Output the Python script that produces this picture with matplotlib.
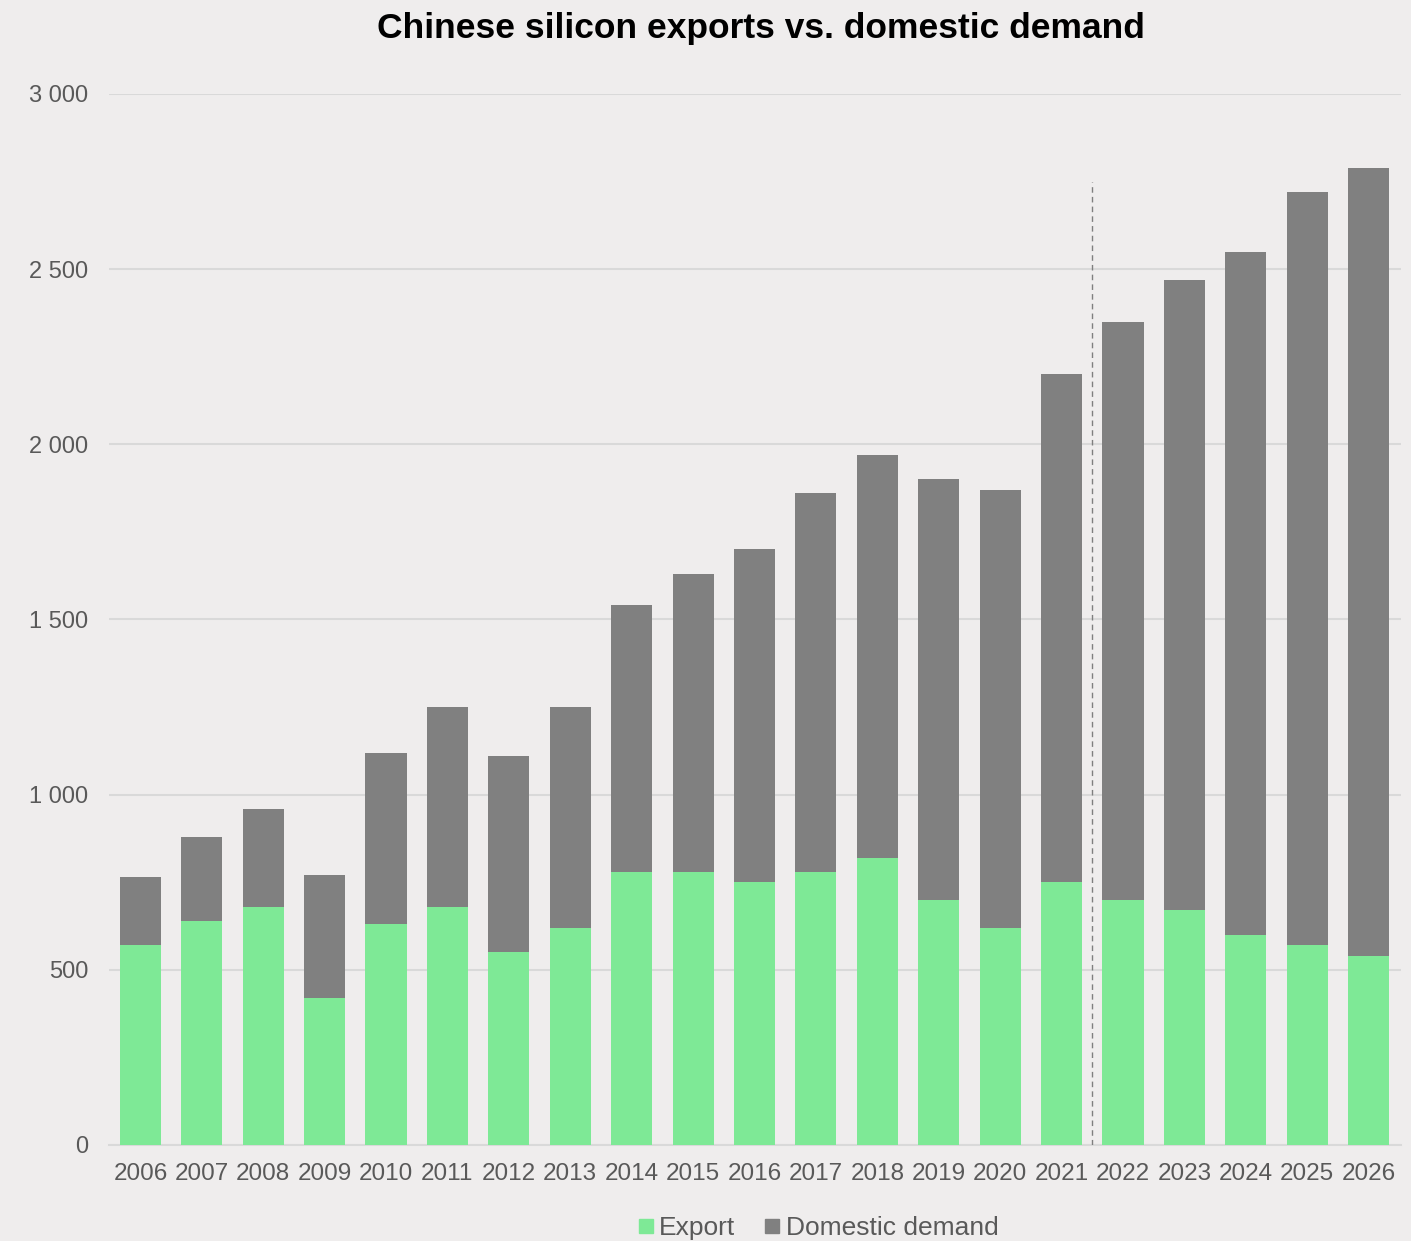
import matplotlib
matplotlib.use("Agg")
from matplotlib import pyplot as plt
from matplotlib.lines import Line2D
from matplotlib.ticker import FuncFormatter

years = [str(y) for y in range(2006, 2027)]
export = [570, 640, 680, 420, 630, 680, 550, 620, 780, 780, 750,
          780, 820, 700, 620, 750, 700, 670, 600, 570, 540]
total = [765, 880, 960, 770, 1120, 1250, 1110, 1250, 1540, 1630, 1700,
         1860, 1970, 1900, 1870, 2200, 2350, 2470, 2550, 2720, 2790]
domestic = [t - e for t, e in zip(total, export)]

bg = "#EFEDED"
green = "#7EE996"
grey = "#808080"
txt = "#595959"

plt.rcParams['font.family'] = ['Liberation Sans', 'DejaVu Sans']

fig = plt.figure(figsize=(14.11, 12.41), dpi=100, facecolor=bg)
ax = fig.add_axes([0.0773, 0.0774, 0.9157, 0.8469], facecolor=bg)

x = range(len(years))
ax.bar(x, export, width=0.67, color=green, zorder=3)
ax.bar(x, domestic, width=0.67, bottom=export, color=grey, zorder=3)

# forecast split
ax.plot([15.5, 15.5], [0, 2750], color="#7F7F7F", lw=1, ls=(0, (4, 3)), zorder=4)

ax.set_xlim(-0.51, 20.53)
ax.set_ylim(0, 3000)
ax.set_yticks(range(0, 3001, 500))
ax.yaxis.set_major_formatter(FuncFormatter(lambda v, p: f"{int(v):,}".replace(",", " ")))
ax.set_xticks(list(x))
ax.set_xticklabels(years)
ax.grid(axis="y", color="#D9D9D9", lw=1.5, zorder=0)
for s in ["left", "right", "top"]:
    ax.spines[s].set_visible(False)
ax.spines["bottom"].set_color("#D9D9D9")
ax.spines["bottom"].set_linewidth(1.5)
ax.tick_params(axis="both", length=0, labelsize=17, colors=txt)
ax.tick_params(axis="x", labelsize=17.5, pad=13)
ax.tick_params(axis="y", pad=15)

fig.text(0.539, 0.977, "Chinese silicon exports vs. domestic demand",
         ha="center", va="center", fontsize=25.5, fontweight="bold", color="black")

handles = [Line2D([], [], marker="s", ls="", color=green, markersize=10.5),
           Line2D([], [], marker="s", ls="", color=grey, markersize=10.5)]
fig.legend(handles, ["Export", "Domestic demand"], loc="center",
           bbox_to_anchor=(0.579, 0.0105), ncol=2, frameon=False,
           fontsize=19, labelcolor=txt, handletextpad=0.1, columnspacing=1.0,
           handlelength=0.8)

fig.savefig("out.png", dpi=100, facecolor=bg)
